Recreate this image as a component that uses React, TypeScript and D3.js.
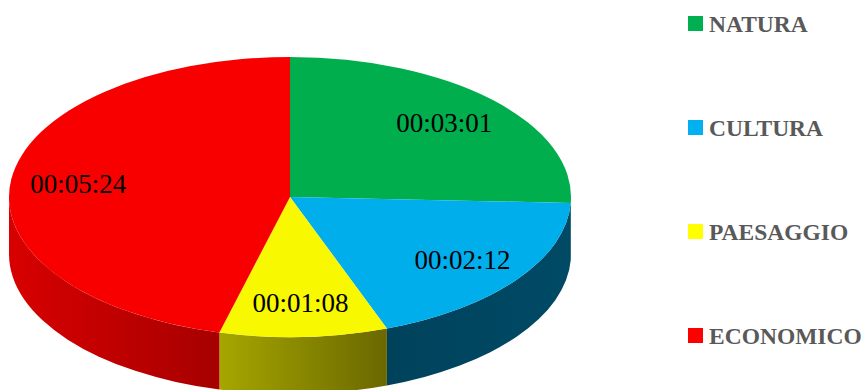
import React from "react";
import * as d3 from "d3";

const categories = ["NATURA", "CULTURA", "PAESAGGIO", "ECONOMICO"];
const seconds = [181, 132, 68, 324];
const labels = ["00:03:01", "00:02:12", "00:01:08", "00:05:24"];
const topColors = ["#00B050", "#00B0F0", "#FFFF00", "#FF0000"];
const topShown = ["#00AE4E", "#00AEEC", "#F8F800", "#F80000"];
const sideLight = ["#006a33", "#004a66", "#a6a600", "#d80000"];
const sideDark = ["#005a2b", "#00425c", "#6a6800", "#a60000"];

const W = 864;
const H = 390;
const cx = 290;
const cy = 197;
const rx = 281;
const ry = 140;
const depth = 57;

function pt(a: number, dy = 0): [number, number] {
  return [cx + rx * Math.sin(a), cy - ry * Math.cos(a) + dy];
}

export default function App() {
  const pie = d3
    .pie<number>()
    .sort(null)
    .startAngle(0)
    .endAngle(2 * Math.PI);
  const arcs = pie(seconds);

  const tops = arcs.map((a) => {
    const p0 = pt(a.startAngle);
    const p1 = pt(a.endAngle);
    const large = a.endAngle - a.startAngle > Math.PI ? 1 : 0;
    return `M${cx},${cy}L${p0[0]},${p0[1]}A${rx},${ry} 0 ${large} 1 ${p1[0]},${p1[1]}Z`;
  });

  const sides = arcs.map((a) => {
    const s0 = Math.max(a.startAngle, Math.PI / 2);
    const s1 = Math.min(a.endAngle, (3 * Math.PI) / 2);
    if (s1 <= s0) return null;
    const t0 = pt(s0);
    const t1 = pt(s1);
    const b0 = pt(s0, depth);
    const b1 = pt(s1, depth);
    return {
      d: `M${t0[0]},${t0[1]}A${rx},${ry} 0 0 1 ${t1[0]},${t1[1]}L${b1[0]},${b1[1]}A${rx},${ry} 0 0 0 ${b0[0]},${b0[1]}Z`,
      x0: Math.min(t0[0], t1[0]),
      x1: Math.max(t0[0], t1[0]),
    };
  });

  const labelPos = arcs.map((a) => {
    const m = (a.startAngle + a.endAngle) / 2;
    return pt(m).map((v, i) => (i === 0 ? cx + (v - cx) * 0.76 : cy + (v - cy) * 0.76));
  });

  const legendY = d3.scalePoint<string>().domain(categories).range([23.5, 335.5]);

  return (
    <svg
      width={W}
      height={H}
      style={{ position: "absolute", left: 0, top: 0, background: "#fff" }}
    >
      <defs>
        {sides.map((s, i) =>
          s ? (
            <linearGradient
              key={i}
              id={`side${i}`}
              gradientUnits="userSpaceOnUse"
              x1={s.x0}
              y1={0}
              x2={s.x1}
              y2={0}
            >
              <stop offset="0%" stopColor={i === 1 ? sideDark[i] : sideLight[i]} />
              <stop offset="100%" stopColor={i === 1 ? sideLight[i] : sideDark[i]} />
            </linearGradient>
          ) : null
        )}
      </defs>
      {sides.map((s, i) =>
        s ? <path key={`s${i}`} d={s.d} fill={`url(#side${i})`} /> : null
      )}
      {tops.map((d, i) => (
        <path key={`t${i}`} d={d} fill={topShown[i]} />
      ))}
      {labels.map((t, i) => (
        <text
          key={`l${i}`}
          x={labelPos[i][0]}
          y={labelPos[i][1] + 9}
          textAnchor="middle"
          fontFamily="'Liberation Serif', serif"
          fontSize={27}
          fill="#000"
        >
          {t}
        </text>
      ))}
      {categories.map((c, i) => (
        <g key={`g${i}`}>
          <rect x={688} y={(legendY(c) as number) - 7.5} width={15} height={15} fill={topColors[i]} />
          <text
            x={709}
            y={(legendY(c) as number) + 8.5}
            fontFamily="'Liberation Serif', serif"
            fontWeight="bold"
            fontSize={23.5}
            fill="#595959"
          >
            {c}
          </text>
        </g>
      ))}
    </svg>
  );
}
